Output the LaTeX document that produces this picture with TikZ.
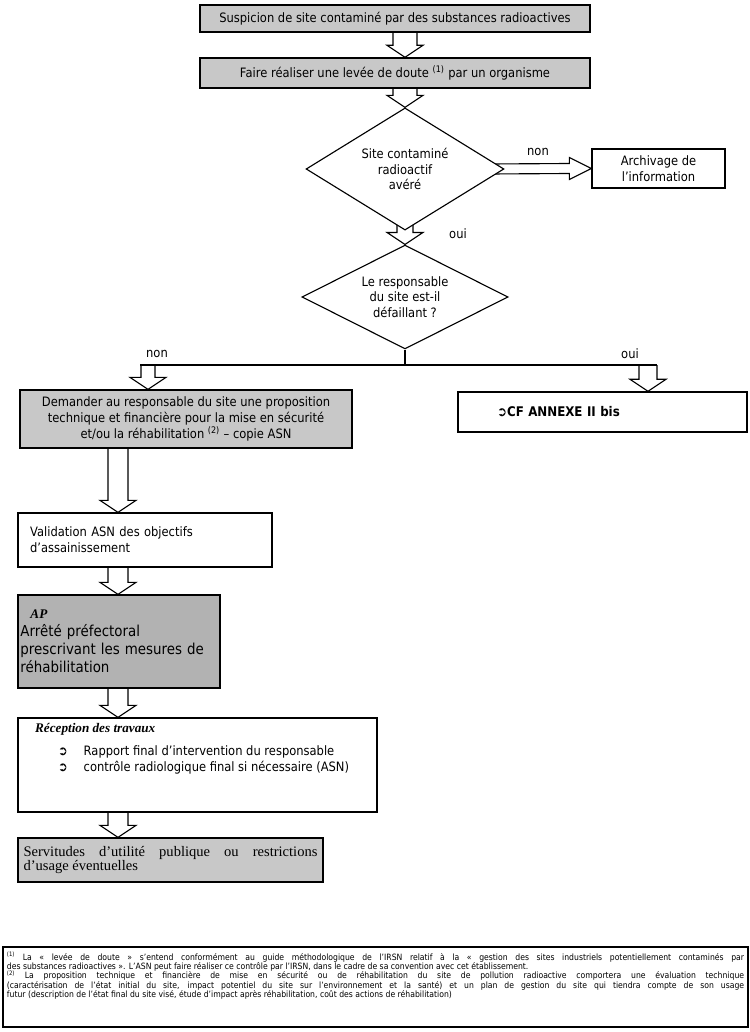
\documentclass[tikz,border=0pt]{standalone}
\usepackage{fontspec}
\setmainfont{DejaVu Sans}[FakeStretch=0.89]
\newfontfamily\timesfont{Liberation Serif}
\usetikzlibrary{shapes.geometric, calc, backgrounds}
\definecolor{ScanGray}{RGB}{200,200,200}
\definecolor{ScanDark}{RGB}{178,178,178}
\tikzset{
  % shaded step box
  graybox/.style={
    rectangle, draw=black, line width=1.1pt, fill=ScanGray,
    font=\fontsize{10.3}{12.6}\selectfont,
    inner sep=2pt, align=center
  },
  % plain step box
  whitebox/.style={
    rectangle, draw=black, line width=1.1pt, fill=white,
    font=\fontsize{10.3}{12.6}\selectfont,
    inner sep=2pt, align=left
  },
  % decision diamond
  decision/.style={
    diamond, draw=black, line width=0.9pt, fill=white,
    font=\fontsize{10.3}{12.6}\selectfont,
    inner sep=0pt, align=center
  },
  % hollow block arrow
  hollowarrow/.style={
    draw=black, fill=white, line width=0.9pt, line join=miter
  },
  % oui / non label
  answer/.style={
    font=\fontsize{10.3}{12}\selectfont, inner sep=1pt
  },
  % plain connector line
  connector/.style={
    draw=black, line width=0.9pt
  }
}
% hollow arrow pointing down: [shaft half width]{top}{tip}
\newcommand{\hollowdown}[3][10]{%
  \path[hollowarrow] ($#2+(-#1,0)$) -- ($#3+(-#1,-12)$) -- ($#3+(-18,-12)$) -- #3
    -- ($#3+(18,-12)$) -- ($#3+(#1,-12)$) -- ($#2+(#1,0)$);}
% hollow arrow pointing right: {start}{tip}
\newcommand{\hollowright}[2]{%
  \path[hollowarrow] ($#1+(0,-5)$) -- ($#2+(-22,-5)$) -- ($#2+(-22,-11)$) -- #2
    -- ($#2+(-22,11)$) -- ($#2+(-22,5)$) -- ($#1+(0,5)$);}

\begin{document}
\begin{tikzpicture}[x=0.028cm, y=-0.028cm]
  \useasboundingbox (0,0) rectangle (750,1032);

  % ── Top of the procedure ───────────────────────────────────────────
  \node[graybox, minimum width=10.92cm, minimum height=0.76cm] (suspicion) at (395,18.5)
        {Suspicion de site contaminé par des substances radioactives};
  \node[graybox, minimum width=10.92cm, minimum height=0.84cm] (levee) at (395,73)
        {Faire réaliser une levée de doute \textsuperscript{(1)} par un organisme};

  % ── Decisions ──────────────────────────────────────────────────────
  \node[decision, minimum width=5.54cm, minimum height=3.42cm, aspect=1.6] (avere) at (405,169)
        {Site contaminé\\radioactif\\avéré};
  \node[whitebox, align=center, minimum width=3.72cm, minimum height=1.09cm] (archive) at (658.5,168.5)
        {Archivage de\\l’information};
  \node[decision, minimum width=5.77cm, minimum height=2.91cm, aspect=1.98] (defaillant) at (405,297)
        {Le responsable\\du site est-il\\défaillant ?};

  \node[answer] (nonright) at (538,152) {non};
  \node[answer] (ouidown) at (458,234) {oui};
  \node[answer] (nonleft) at (157,354) {non};
  \node[answer] (ouiright) at (630,354) {oui};

  % ── Branches ───────────────────────────────────────────────────────
  \coordinate (fork) at ($(defaillant.south)+(0,16)$);
  \coordinate (nonbranch) at (148,365);
  \coordinate (ouibranch) at (648,365);
  \coordinate (colL) at (118,0);
  \coordinate (avereright) at ($(avere.east)+(-15,0)$);
  \coordinate (avereout) at ($(avere.south)+(0,-10)$);

  \node[graybox, minimum width=9.3cm, minimum height=1.62cm] (demande) at (186,419)
        {Demander au responsable du site une proposition\\
         technique et financière pour la mise en sécurité\\
         et/ou la réhabilitation \textsuperscript{(2)} – copie ASN};
  \node[whitebox, minimum width=8.09cm, minimum height=1.12cm, inner xsep=1.09cm,
        text width=5.9cm, font=\bfseries\fontsize{10.6}{12}\selectfont] (annexe) at (602.5,412)
        {➲CF ANNEXE II bis};

  % ── Left column ────────────────────────────────────────────────────
  \node[whitebox, minimum width=7.11cm, minimum height=1.51cm, inner xsep=0.34cm,
        text width=6.43cm] (validation) at (145,540)
        {Validation ASN des objectifs\\d’assainissement};
  \node[graybox, fill=ScanDark, minimum width=5.66cm, minimum height=2.6cm, inner xsep=0.07cm,
        text width=5.52cm, align=left, font=\fontsize{12}{14.4}\selectfont] (arrete) at (119,641.5)
        {\hspace*{8pt}{\timesfont\bfseries\itshape\fontsize{10.5}{12}\selectfont AP}\\
         Arrêté préfectoral\\prescrivant les mesures de\\réhabilitation};
  \node[whitebox, minimum width=10.05cm, minimum height=2.63cm, inner xsep=0.48cm, inner ysep=0pt]
        (reception) at (197.5,765)
        {\parbox[c][2.63cm][t]{9.09cm}{\raggedright\vspace{4pt}%
          {\timesfont\bfseries\itshape\fontsize{10.5}{12}\selectfont Réception des travaux}\par
          \vspace{6pt}%
          \hspace*{0.64cm}➲\hspace{0.45cm}Rapport final d’intervention du responsable\par
          \hspace*{0.64cm}➲\hspace{0.45cm}contrôle radiologique final si nécessaire (ASN)}};
  \node[graybox, minimum width=8.54cm, minimum height=1.23cm, text width=8.23cm, align=justify,
        font=\timesfont\fontsize{11.6}{11.3}\selectfont] (servitudes) at (170.5,860)
        {Servitudes d’utilité publique ou restrictions\linebreak d’usage éventuelles};

  % ── Footnotes ──────────────────────────────────────────────────────
  \node[whitebox, minimum width=20.86cm, minimum height=2.24cm, inner xsep=0.11cm, inner ysep=0pt,
        font=\fontsize{6.9}{7.4}\selectfont] (notes) at (375.5,987)
        {\parbox[c][2.24cm][t]{20.64cm}{\lineskiplimit=-10pt\vspace{4pt}%
          \textsuperscript{(1)}~La «~levée de doute~» s’entend conformément au guide méthodologique
          de l’IRSN relatif à la «~gestion des sites industriels potentiellement contaminés par\linebreak
          des substances radioactives~». L’ASN peut faire réaliser ce contrôle par l’IRSN, dans le
          cadre de sa convention avec cet établissement.\par
          \textsuperscript{(2)}~La proposition technique et financière de mise en sécurité ou de
          réhabilitation du site de pollution radioactive comportera une évaluation technique\linebreak
          (caractérisation de l’état initial du site, impact potentiel du site sur l’environnement et
          la santé) et un plan de gestion du site qui tiendra compte de son usage\linebreak
          futur (description de l’état final du site visé, étude d’impact après réhabilitation,
          coût des actions de réhabilitation)}};

  % ── Fork below the second decision ─────────────────────────────────
  \draw[connector] (defaillant.south) -- (fork);
  \draw[connector] ($(nonbranch)+(-8,0)$) -- ($(ouibranch)+(9,0)$);

  % ── Block arrows (behind the boxes) ────────────────────────────────
  \begin{scope}[on background layer]
    \hollowdown[12]{(suspicion.south -| avere.north)}{(levee.north -| avere.north)}
    \hollowdown[12]{(levee.south -| avere.north)}{(avere.north)}
    \hollowright{(avereright)}{(archive.west)}
    \hollowdown[8]{(avereout)}{(defaillant.north)}
    \hollowdown[7]{(nonbranch)}{(demande.north -| nonbranch)}
    \hollowdown[9]{(ouibranch)}{(annexe.north -| ouibranch)}
    \hollowdown{(demande.south -| colL)}{(validation.north -| colL)}
    \hollowdown{(validation.south -| colL)}{(arrete.north -| colL)}
    \hollowdown{(arrete.south -| colL)}{(reception.north -| colL)}
    \hollowdown{(reception.south -| colL)}{(servitudes.north -| colL)}
  \end{scope}

\end{tikzpicture}
\end{document}
